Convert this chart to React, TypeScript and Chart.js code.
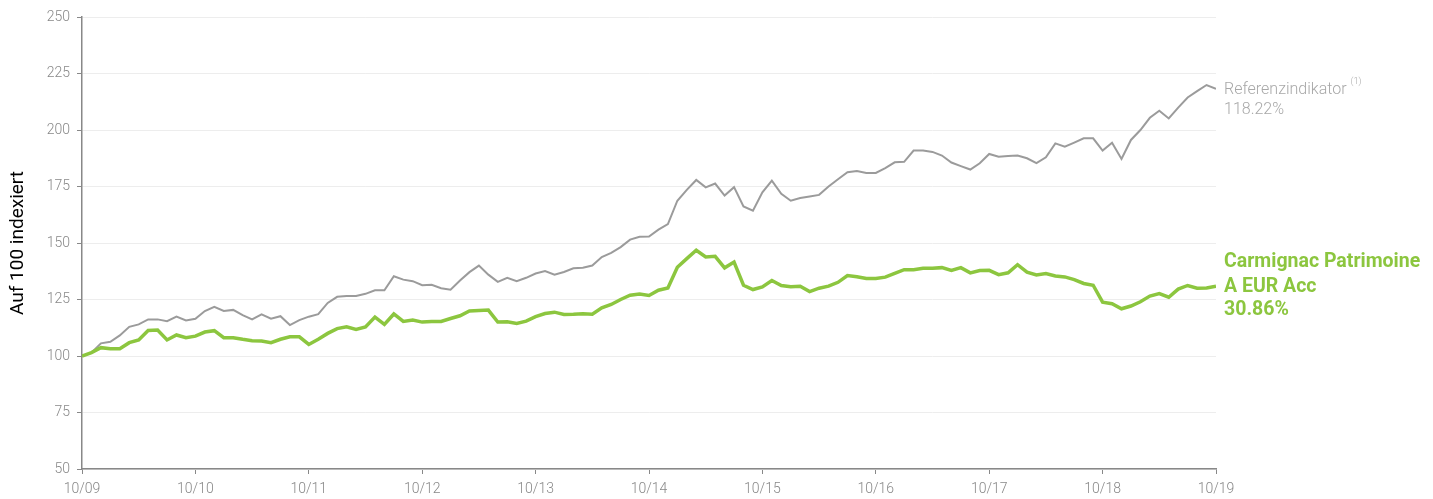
import React, { useEffect, useRef } from "react";
import { Chart, registerables } from "chart.js";

Chart.register(...registerables);

const xTickLabels = ["10/09", "10/10", "10/11", "10/12", "10/13", "10/14", "10/15", "10/16", "10/17", "10/18", "10/19"];

const referenzValues = [
  100, 101.5, 105.6, 106.3, 109.1, 112.9, 114.0, 116.2, 116.2, 115.4, 117.4, 115.7,
  116.5, 119.9, 121.8, 119.9, 120.4, 118.1, 116.2, 118.4, 116.5, 117.6, 113.7, 115.9,
  117.4, 118.5, 123.5, 126.2, 126.5, 126.6, 127.5, 129.1, 129.1, 135.3, 133.8, 133.1,
  131.3, 131.5, 130.0, 129.3, 133.4, 137.1, 140.0, 136.0, 132.8, 134.6, 133.1, 134.6,
  136.5, 137.6, 136.0, 137.2, 138.8, 139.1, 140.0, 143.8, 145.6, 148.2, 151.5, 152.8,
  152.9, 155.9, 158.4, 168.7, 173.5, 177.9, 174.6, 176.3, 171.0, 174.7, 166.2, 164.3,
  172.4, 177.6, 171.8, 168.7, 169.9, 170.6, 171.3, 175.0, 178.2, 181.3, 181.8, 181.0,
  181.0, 183.1, 185.7, 185.9, 190.9, 190.9, 190.3, 188.7, 185.6, 184.0, 182.5, 185.3,
  189.4, 188.2, 188.5, 188.7, 187.5, 185.3, 187.9, 194.1, 192.6, 194.4, 196.3, 196.3,
  190.9, 194.4, 187.2, 195.6, 200.0, 205.4, 208.5, 205.1, 209.9, 214.4, 217.2, 219.9,
  218.22,
];

const fondsValues = [
  100, 101.5, 103.7, 103.2, 103.2, 105.9, 107.1, 111.3, 111.5, 107.1, 109.3, 108.1,
  108.8, 110.6, 111.2, 108.1, 108.1, 107.4, 106.8, 106.6, 105.9, 107.4, 108.5, 108.5,
  105.1, 107.4, 110.0, 112.1, 112.9, 111.8, 112.9, 117.2, 114.0, 118.6, 115.3, 115.9,
  115.0, 115.3, 115.3, 116.6, 117.8, 119.9, 120.1, 120.3, 115.0, 115.1, 114.4, 115.4,
  117.4, 118.8, 119.4, 118.4, 118.5, 118.7, 118.5, 121.3, 122.8, 125.0, 126.9, 127.4,
  126.8, 129.1, 130.1, 139.3, 143.1, 146.8, 143.8, 144.1, 139.0, 141.6, 131.3, 129.4,
  130.6, 133.4, 131.2, 130.6, 130.9, 128.5, 130.0, 130.9, 132.6, 135.6, 135.1, 134.3,
  134.3, 134.9, 136.6, 138.2, 138.2, 138.8, 138.8, 139.1, 137.9, 139.1, 136.8, 137.8,
  137.9, 136.0, 136.8, 140.4, 137.1, 135.9, 136.5, 135.4, 135.0, 133.8, 132.1, 131.3,
  123.8, 123.1, 120.9, 122.1, 124.0, 126.5, 127.6, 126.0, 129.6, 131.2, 130.0, 130.1,
  130.86,
];

const referenzLabel = ["Referenzindikator", "118.22%"];
const fondsLabel = ["Carmignac Patrimoine", "A EUR Acc", "30.86%"];
const yAxisTitle = "Auf 100 indexiert";

const GREEN = "#8cc63f";
const GRAY_LINE = "#9b9b9b";
const GRAY_TEXT = "#a8a8a8";
const FONT = "Roboto, sans-serif";

const labelsPlugin = {
  id: "endLabels",
  afterDraw(chart: any) {
    const ctx = chart.ctx;
    const yScale = chart.scales.y;
    const area = chart.chartArea;
    ctx.save();
    ctx.translate(18, (area.top + area.bottom) / 2);
    ctx.rotate(-Math.PI / 2);
    ctx.fillStyle = "#000";
    ctx.font = `19px ${FONT}`;
    ctx.textAlign = "center";
    ctx.textBaseline = "middle";
    ctx.fillText(yAxisTitle, 0, 0);
    ctx.restore();

    const x = area.right + 8;
    ctx.save();
    ctx.textAlign = "left";
    ctx.textBaseline = "alphabetic";
    const gy = yScale.getPixelForValue(referenzValues[referenzValues.length - 1]);
    ctx.fillStyle = GRAY_TEXT;
    ctx.font = `300 16px ${FONT}`;
    ctx.fillText(referenzLabel[0], x, gy + 5);
    const w = ctx.measureText(referenzLabel[0]).width;
    ctx.font = `300 9px ${FONT}`;
    ctx.fillText("(1)", x + w + 4, gy - 5);
    ctx.font = `300 16px ${FONT}`;
    ctx.fillText(referenzLabel[1], x, gy + 25);

    const fy = yScale.getPixelForValue(fondsValues[fondsValues.length - 1]);
    ctx.fillStyle = GREEN;
    ctx.font = `bold 19.5px ${FONT}`;
    ctx.fillText(fondsLabel[0], x, fy - 19);
    ctx.fillText(fondsLabel[1], x, fy + 6);
    ctx.fillText(fondsLabel[2], x, fy + 29);
    ctx.restore();
  },
};

export default function App() {
  const ref = useRef<HTMLCanvasElement | null>(null);
  useEffect(() => {
    document.body.style.margin = "0";
    const canvas = ref.current!;
    const chart = new Chart(canvas, {
      type: "line",
      data: {
        datasets: [
          {
            label: fondsLabel.join(" "),
            data: fondsValues.map((v, i) => ({ x: i, y: v })),
            borderColor: GREEN,
            borderWidth: 3.5,
            pointRadius: 0,
            tension: 0,
            order: 0,
          },
          {
            label: referenzLabel[0],
            data: referenzValues.map((v, i) => ({ x: i, y: v })),
            borderColor: GRAY_LINE,
            borderWidth: 2,
            pointRadius: 0,
            tension: 0,
            order: 1,
          },
        ],
      },
      options: {
        animation: false,
        responsive: false,
        maintainAspectRatio: false,
        layout: { padding: { left: 0, right: 217, top: 17, bottom: 0 } },
        plugins: { legend: { display: false }, tooltip: { enabled: false } },
        scales: {
          x: {
            type: "linear",
            min: 0,
            max: 120,
            afterFit: (s: any) => {
              s.height = 30;
            },
            afterBuildTicks: (s: any) => {
              s.ticks = xTickLabels.map((_, i) => ({ value: i * 12 }));
            },
            ticks: {
              callback: (v: any) => xTickLabels[Math.round(Number(v) / 12)],
              color: "#888",
              font: { family: FONT, size: 14, weight: "300" },
              padding: 7,
              maxRotation: 0,
              autoSkip: false,
            },
            grid: { drawOnChartArea: false, drawTicks: true, tickLength: 5, tickColor: "#888" },
            border: { color: "#888", width: 1.5 },
          },
          y: {
            min: 50,
            max: 250,
            afterFit: (s: any) => {
              s.width = 82;
            },
            ticks: {
              stepSize: 25,
              color: "#888",
              font: { family: FONT, size: 14, weight: "300" },
              padding: 7,
            },
            grid: { color: "#ededed", tickLength: 5, tickColor: "#888" },
            border: { color: "#888", width: 1.5 },
          },
        },
      },
      plugins: [labelsPlugin],
    });
    return () => chart.destroy();
  }, []);
  return <canvas ref={ref} width={1433} height={499} style={{ display: "block" }} />;
}
